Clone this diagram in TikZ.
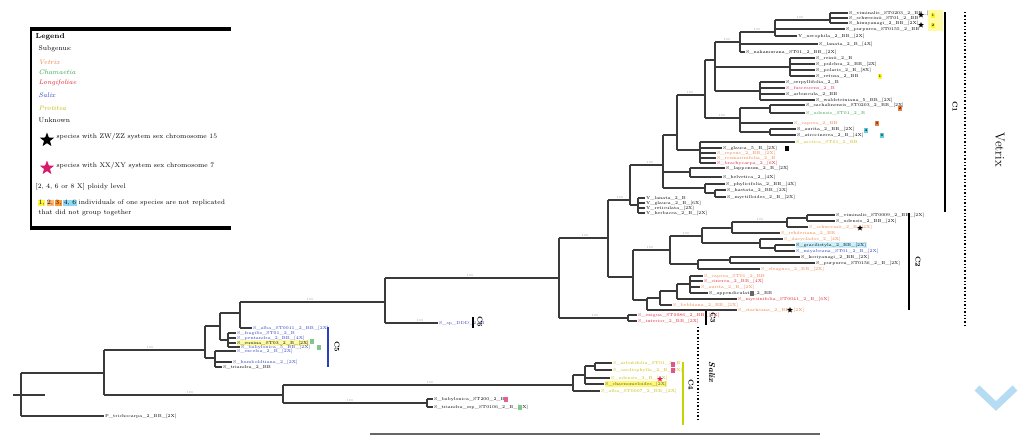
\documentclass[tikz,border=0pt]{standalone}
\usetikzlibrary{shapes.geometric}
\definecolor{vetc}{HTML}{EE7D3A}
\definecolor{chamc}{HTML}{2EA043}
\definecolor{longc}{HTML}{E0202E}
\definecolor{salc}{HTML}{2B3EBF}
\definecolor{protc}{HTML}{C9B800}
\definecolor{brc}{HTML}{3A3A3A}
\definecolor{pinkc}{HTML}{D81B6A}
\definecolor{c4c}{HTML}{C8D400}
\definecolor{cyanc}{HTML}{5ED0E0}
\definecolor{chev}{HTML}{B5DCF2}
\newcounter{lfc}\newcounter{mkc}\newcounter{bsc}
\tikzset{
 br/.style={draw=brc,line width=1.15pt},
 lab/.style={font=\fontsize{4.3}{4.5}\selectfont,inner sep=0.5pt,anchor=west},
 sup/.style={font=\fontsize{3}{3}\selectfont,text=black!45,inner sep=0.2pt,anchor=south},
 mkbox/.style={minimum width=4pt,minimum height=5pt,inner sep=0pt,draw=none},
 tstar/.style={star,star points=5,star point ratio=2.3,minimum size=6pt,inner sep=0pt,draw=none},
 cbar/.style={line width=2.4pt},
 clab/.style={font=\bfseries\fontsize{7}{7}\selectfont,rotate=-90},
 lgd/.style={font=\fontsize{6.7}{7}\selectfont,anchor=west,inner sep=0.5pt},
}
\newcommand{\vt}[3]{\draw[br] (#1,#2) -- (#1,#3);}
\newcommand{\hz}[3]{\draw[br] (#1,#3) -- (#2,#3);}
\newcommand{\lf}[5]{\stepcounter{lfc}\draw[br] (#1,#2) -- (#3,#2) node[lab,text=#4] (lf\arabic{lfc}) {#5};}
\newcommand{\lfh}[6]{\stepcounter{lfc}\draw[br] (#1,#2) -- (#3,#2) node[lab,text=#4,fill=#5] (lf\arabic{lfc}) {#6};}
\newcommand{\mk}[4]{\stepcounter{mkc}\node[mkbox,fill=#3,font=\fontsize{3.5}{3.5}\selectfont\bfseries] (mk\arabic{mkc}) at (#1,#2) {#4};}
\newcommand{\st}[3]{\stepcounter{mkc}\node[tstar,fill=#3] (mk\arabic{mkc}) at (#1,#2) {};}
\newcommand{\bs}[2]{\stepcounter{bsc}\node[sup] (bs\arabic{bsc}) at (#1,#2) {100};}
\begin{document}
\begin{tikzpicture}[x=1pt,y=-1pt]
\useasboundingbox (0,0) rectangle (1020,439);
\fill[white] (0,0) rectangle (1020,439);

% ---------------- legend ----------------
\draw[line width=3.5pt] (30,29) -- (231,29);
\draw[line width=3.5pt] (30,228) -- (231,228);
\draw[line width=1.6pt] (31,27) -- (31,230);
\node[lgd,font=\bfseries\fontsize{7.2}{8}\selectfont] (lg0) at (35,37) {Legend};
\node[lgd] (lg1) at (38,49) {Subgenus:};
\node[lgd,text=vetc,font=\itshape\fontsize{6.7}{7}\selectfont] (lg2) at (38,62) {Vetrix};
\node[lgd,text=chamc,font=\itshape\fontsize{6.7}{7}\selectfont] (lg3) at (38,72) {Chamaetia};
\node[lgd,text=longc,font=\itshape\fontsize{6.7}{7}\selectfont] (lg4) at (38,83) {Longifoliae};
\node[lgd,text=salc,font=\itshape\fontsize{6.7}{7}\selectfont] (lg5) at (38,95) {Salix};
\node[lgd,text=protc,font=\itshape\fontsize{6.7}{7}\selectfont] (lg6) at (38,108) {Protitea};
\node[lgd] (lg7) at (38,120) {Unknown};
\node[star,star points=5,star point ratio=2.4,fill=black,minimum size=15pt,inner sep=0pt] (lgs1) at (47,140) {};
\node[lgd] (lg8) at (56,137) {species with ZW/ZZ system sex chromosome 15};
\node[star,star points=5,star point ratio=2.4,fill=pinkc,minimum size=15pt,inner sep=0pt] (lgs2) at (47,168) {};
\node[lgd] (lg9) at (56,166) {species with XX/XY system sex chromosome 7};
\node[lgd] (lg10) at (35,187) {[2, 4, 6 or 8 X] ploidy level};
\node[lgd,fill=yellow!80] (lgb1) at (38,203) {1,};
\node[lgd,fill=orange!55] (lgb2) at ([xshift=1pt]lgb1.east) {2,};
\node[lgd,fill=orange!80] (lgb3) at ([xshift=1pt]lgb2.east) {3,};
\node[lgd,fill=cyan!45] (lgb4) at ([xshift=1pt]lgb3.east) {4, 6};
\node[lgd] (lg11) at ([xshift=1pt]lgb4.east) {individuals of one species are not replicated};
\node[lgd] (lg12) at (38,213) {that did not group together};

% ---------------- root & lower Salix ----------------
\draw[br] (13,395) -- (45,395);
\vt{21}{373}{416}
\hz{21}{104}{373}
\lf{21}{416}{104}{black}{P\_trichocarpa\_2\_BB\_[2X]}
\vt{104}{350}{395}
\hz{104}{205}{350}
\hz{104}{283}{395}
\bs{150}{349}\bs{190}{394}
\vt{283}{385}{403}
\hz{283}{573}{385}
\hz{283}{427}{403}
\bs{430}{384}\bs{350}{402}
\vt{427}{399}{407}
\lf{427}{399}{433}{black}{S\_babylonica\_ST200\_2\_BB}
\lf{427}{407}{433}{black}{S\_triandra\_ssp\_ST0106\_2\_B\_[2X]}
\mk{506}{399}{pinkc!70}{}
\mk{520}{407}{chamc!60}{}

% ---------------- C4 ----------------
\vt{573}{375}{391}
\hz{573}{585}{375}
\lf{573}{391}{600}{protc}{S\_alba\_ST0007\_2\_BB\_[2X]}
\vt{585}{366}{384}
\hz{585}{595}{366}
\vt{595}{363}{370}
\lf{595}{363}{612}{protc}{S\_arbutifolia\_ST01\_2\_B}
\lf{595}{370}{612}{protc}{S\_cardiophylla\_2\_B\_[2X]}
\lf{585}{378}{610}{protc}{S\_udensis\_3\_B\_[2X]}
\lfh{585}{384}{604}{black!70}{yellow!55}{S\_chaenomeloides\_[2X]}
\mk{673}{364}{pinkc!75}{}
\mk{673}{370}{pinkc!75}{}
\st{660}{379}{pinkc}
\draw[cbar,c4c] (683,362) -- (683,425);
\node[clab] (cl4) at (691,385) {C4};
\draw[line width=1.4pt,dotted] (698,327) -- (698,422);
\node[font=\bfseries\itshape\fontsize{8.5}{8.5}\selectfont,rotate=-90] (salix) at (712,372) {Salix};

% ---------------- C5 ----------------
\vt{205}{326}{358}
\hz{205}{220}{326}
\vt{220}{313}{340}
\hz{220}{240}{313}
\vt{240}{302}{328}
\hz{240}{385}{302}
\bs{310}{301}
\lf{240}{328}{252}{salc}{S\_alba\_ST0011\_2\_BB\_[2X]}
\hz{220}{228}{340}
\vt{228}{333}{347}
\lf{228}{333}{236}{salc}{S\_fragilis\_ST01\_2\_B}
\lf{228}{338}{236}{salc}{S\_pentandra\_2\_BB\_[4X]}
\lfh{228}{343}{236}{black}{yellow!35}{S\_euxina\_ST03\_2\_B\_[2X]}
\lf{228}{347}{240}{salc}{S\_babylonica\_5\_BB\_[2X]}
\hz{205}{215}{358}
\vt{215}{351}{367}
\lf{215}{351}{236}{salc}{S\_excelsa\_2\_B\_[2X]}
\lf{215}{362}{232}{salc}{S\_humboldtiana\_2\_[2X]}
\lf{215}{367}{222}{black}{S\_triandra\_2\_BB}
\mk{312}{341}{chamc!60}{}
\mk{319}{347}{chamc!60}{}
\draw[cbar,salc] (328,327) -- (328,367);
\node[clab] (cl5) at (337,347) {C5};

% ---------------- C6 ----------------
\vt{385}{278}{323}
\bs{420}{322}
\lf{385}{323}{438}{salc}{S\_sp\_DDD\_2\_B}
\draw[line width=1.2pt] (473,317) -- (473,328);
\node[clab] (cl6) at (480,322) {C6};
\hz{385}{559}{278}
\bs{470}{277}

% ---------------- C3 ----------------
\vt{559}{238}{318}
\hz{559}{608}{238}
\hz{559}{628}{318}
\bs{585}{237}\bs{595}{317}
\vt{628}{315}{321}
\lf{628}{315}{637}{longc}{S\_exigua\_ST0086\_2\_BB\_[2X]}
\lf{628}{321}{637}{longc}{S\_interior\_2\_BB\_[2X]}
\draw[line width=1.2pt] (706,311) -- (706,325);
\node[clab] (cl3) at (713,318) {C3};

% ---------------- C2 ----------------
\vt{608}{200}{277}
\hz{608}{633}{277}
\vt{633}{250}{300}
\hz{633}{670}{250}
\bs{650}{249}
\vt{670}{236}{264}
\hz{670}{702}{236}
\bs{686}{235}
\vt{702}{228}{243}
\hz{702}{732}{228}
\vt{732}{222}{233}
\hz{732}{787}{222}
\bs{760}{221}
\vt{787}{218}{227}
\hz{787}{807}{218}
\vt{807}{215}{221}
\lf{807}{215}{835}{black}{S\_viminalis\_ST0009\_2\_BB\_[2X]}
\lf{807}{221}{835}{black}{S\_udensis\_2\_BB\_[2X]}
\lf{787}{227}{808}{vetc}{S\_schwerinii\_2\_B\_[2X]}
\st{860}{228}{black}
\lf{732}{233}{780}{vetc}{S\_rehderiana\_2\_BB}
\hz{702}{760}{243}
\vt{760}{239}{248}
\lf{760}{239}{783}{vetc}{S\_dasyclados\_2\_[4X]}
\hz{760}{775}{248}
\vt{775}{245}{251}
\lfh{775}{245}{795}{black}{cyan!20}{S\_gracilistyla\_2\_BB\_[2X]}
\lf{775}{251}{795}{salc}{S\_miyabeana\_ST01\_2\_B\_[2X]}
\hz{670}{698}{264}
\vt{698}{260}{269}
\hz{698}{730}{260}
\vt{730}{257}{263}
\lf{730}{257}{800}{black}{S\_koriyanagi\_2\_BB\_[2X]}
\lf{730}{263}{815}{black}{S\_purpurea\_ST0156\_2\_B\_[2X]}
\lf{698}{269}{760}{vetc}{S\_eleagnos\_2\_BB\_[2X]}
% lower C2
\hz{633}{647}{300}
\vt{647}{298}{310}
\lf{647}{310}{737}{vetc}{S\_starkeana\_2\_BB\_[2X]}
\st{790}{310}{black}
\hz{647}{660}{298}
\vt{660}{291}{305}
\lf{660}{305}{672}{vetc}{S\_bebbiana\_2\_BB\_[2X]}
\hz{660}{677}{291}
\vt{677}{284}{299}
\lf{677}{299}{737}{longc}{S\_myrsinifolia\_ST0041\_2\_B\_[6X]}
\hz{677}{690}{284}
\vt{690}{276}{293}
\lf{690}{276}{703}{vetc}{S\_caprea\_ST01\_2\_BB}
\lf{690}{281}{703}{longc}{S\_cinerea\_2\_BB\_[4X]}
\lf{690}{287}{700}{vetc}{S\_aurita\_2\_B\_[2X]}
\lf{690}{293}{708}{black}{S\_appendiculata\_2\_BB}
\mk{752}{293}{black!60}{}
\draw[cbar,black] (909,213) -- (909,310);
\node[clab] (cl2) at (918,262) {C2};

% ---------------- C1 ----------------
\hz{608}{630}{200}
\bs{620}{199}
\vt{630}{165}{205}
\hz{630}{638}{205}
\vt{638}{198}{213}
\lf{638}{198}{645}{black}{Y\_lanata\_2\_B}
\lf{638}{203}{645}{black}{Y\_glauca\_2\_B\_[6X]}
\lf{638}{208}{645}{black}{Y\_reticulata\_[2X]}
\lf{638}{213}{645}{black}{Y\_herbacea\_2\_B\_[2X]}
\hz{630}{663}{165}
\bs{650}{164}
\vt{663}{135}{188}
% E
\hz{663}{705}{188}
\vt{705}{184}{193}
\lf{705}{184}{725}{black}{S\_phylicifolia\_2\_BB\_[4X]}
\hz{705}{715}{193}
\vt{715}{190}{197}
\lf{715}{190}{726}{black}{S\_hastata\_2\_BB\_[2X]}
\lf{715}{197}{726}{black}{S\_myrtilloides\_2\_B\_[2X]}
% D
\hz{663}{690}{172}
\vt{690}{168}{177}
\lf{690}{168}{725}{black}{S\_lapponum\_2\_B\_[2X]}
\lf{690}{177}{722}{black}{S\_helvetica\_2\_[4X]}
% B
\hz{663}{677}{135}
\vt{677}{95}{150}
\hz{677}{700}{150}
\vt{700}{142}{163}
\lf{700}{142}{795}{protc}{S\_arctica\_ST01\_2\_BB}
\lf{700}{148}{722}{black}{S\_glauca\_5\_B\_[2X]}
\mk{787}{148}{black}{}
\lf{700}{153}{716}{vetc}{S\_repens\_2\_BB\_[2X]}
\lf{700}{158}{716}{vetc}{S\_rosmarinifolia\_2\_B}
\lf{700}{163}{716}{longc}{S\_brachycarpa\_2\_[6X]}
% F
\hz{677}{705}{95}
\bs{690}{94}
\vt{705}{60}{118}
\hz{705}{740}{118}
\bs{722}{117}
\vt{740}{108}{132}
\hz{740}{770}{108}
\vt{770}{105}{113}
\lf{770}{105}{805}{black}{S\_sachalinensis\_ST0203\_2\_BB\_[2X]}
\lf{770}{113}{805}{chamc}{S\_udensis\_ST01\_2\_B}
\mk{900}{108}{vetc}{2}
\lf{740}{123}{793}{vetc}{S\_caprea\_2\_BB}
\mk{877}{123}{vetc}{3}
\hz{740}{770}{132}
\vt{770}{129}{135}
\lf{770}{129}{796}{black}{S\_aurita\_2\_BB\_[2X]}
\lf{770}{135}{796}{black}{S\_atrocinerea\_2\_B\_[4X]}
\mk{866}{130}{cyanc}{4}
\mk{882}{135}{cyanc}{6}
% H
\hz{705}{715}{60}
\vt{715}{42}{91}
\hz{715}{740}{42}
\bs{727}{41}
\vt{740}{32}{52}
\hz{740}{775}{32}
\bs{757}{31}
\vt{775}{20}{36}
\hz{775}{830}{20}
\bs{800}{19}
\vt{830}{13}{23}
\lf{830}{13}{848}{black}{S\_viminalis\_ST0203\_2\_BB\_[2X]}
\lf{830}{18}{848}{black}{S\_schwerinii\_ST01\_2\_BB}
\lf{830}{23}{848}{black}{S\_kinuyanagi\_2\_BB\_[2X]}
\lf{775}{29}{845}{black}{S\_purpurea\_ST0155\_2\_BB}
\lf{775}{36}{797}{black}{Y\_xerophila\_2\_BB\_[2X]}
\lf{740}{44}{818}{black}{S\_lanata\_2\_B\_[4X]}
\lf{740}{52}{745}{black}{S\_nakamurana\_ST01\_2\_BB\_[2X]}
\hz{715}{790}{67}
\vt{790}{58}{76}
\lf{790}{58}{815}{black}{S\_reinii\_2\_B}
\lf{790}{64}{815}{black}{S\_pulchra\_2\_BB\_[2X]}
\lf{790}{70}{815}{black}{S\_polaris\_2\_B\_[8X]}
\lf{790}{76}{815}{black}{S\_retusa\_2\_BB}
\mk{880}{76}{yellow!80}{1}
\hz{715}{760}{91}
\vt{760}{82}{100}
\lf{760}{82}{785}{black}{S\_serpyllifolia\_2\_B}
\lf{760}{88}{785}{pinkc}{S\_fuscescens\_2\_B}
\lf{760}{94}{785}{black}{S\_arbuscula\_2\_BB}
\lf{760}{100}{815}{black}{S\_waldsteiniana\_5\_BB\_[2X]}
% top markers
\fill[yellow!35] (928,10) rectangle (943,31);
\st{921}{15}{black}
\st{921}{25}{black}
\mk{933}{15}{yellow!90}{1}
\mk{933}{25}{yellow!90}{2}
\draw[cbar,black] (945,12) -- (945,212);
\node[clab] (cl1) at (955,107) {C1};
\draw[line width=1.4pt,dotted] (965,12) -- (965,327);
\node[font=\fontsize{13}{13}\selectfont,rotate=-90] (vetrix) at (1000,150) {Vetrix};

% ---------------- scale bar & mark ----------------
\draw[line width=1.6pt,black!60] (370,434) -- (820,434);
\draw[chev,line width=7pt,line join=miter] (977,388) -- (996,406) -- (1015,388);
\end{tikzpicture}
\end{document}
